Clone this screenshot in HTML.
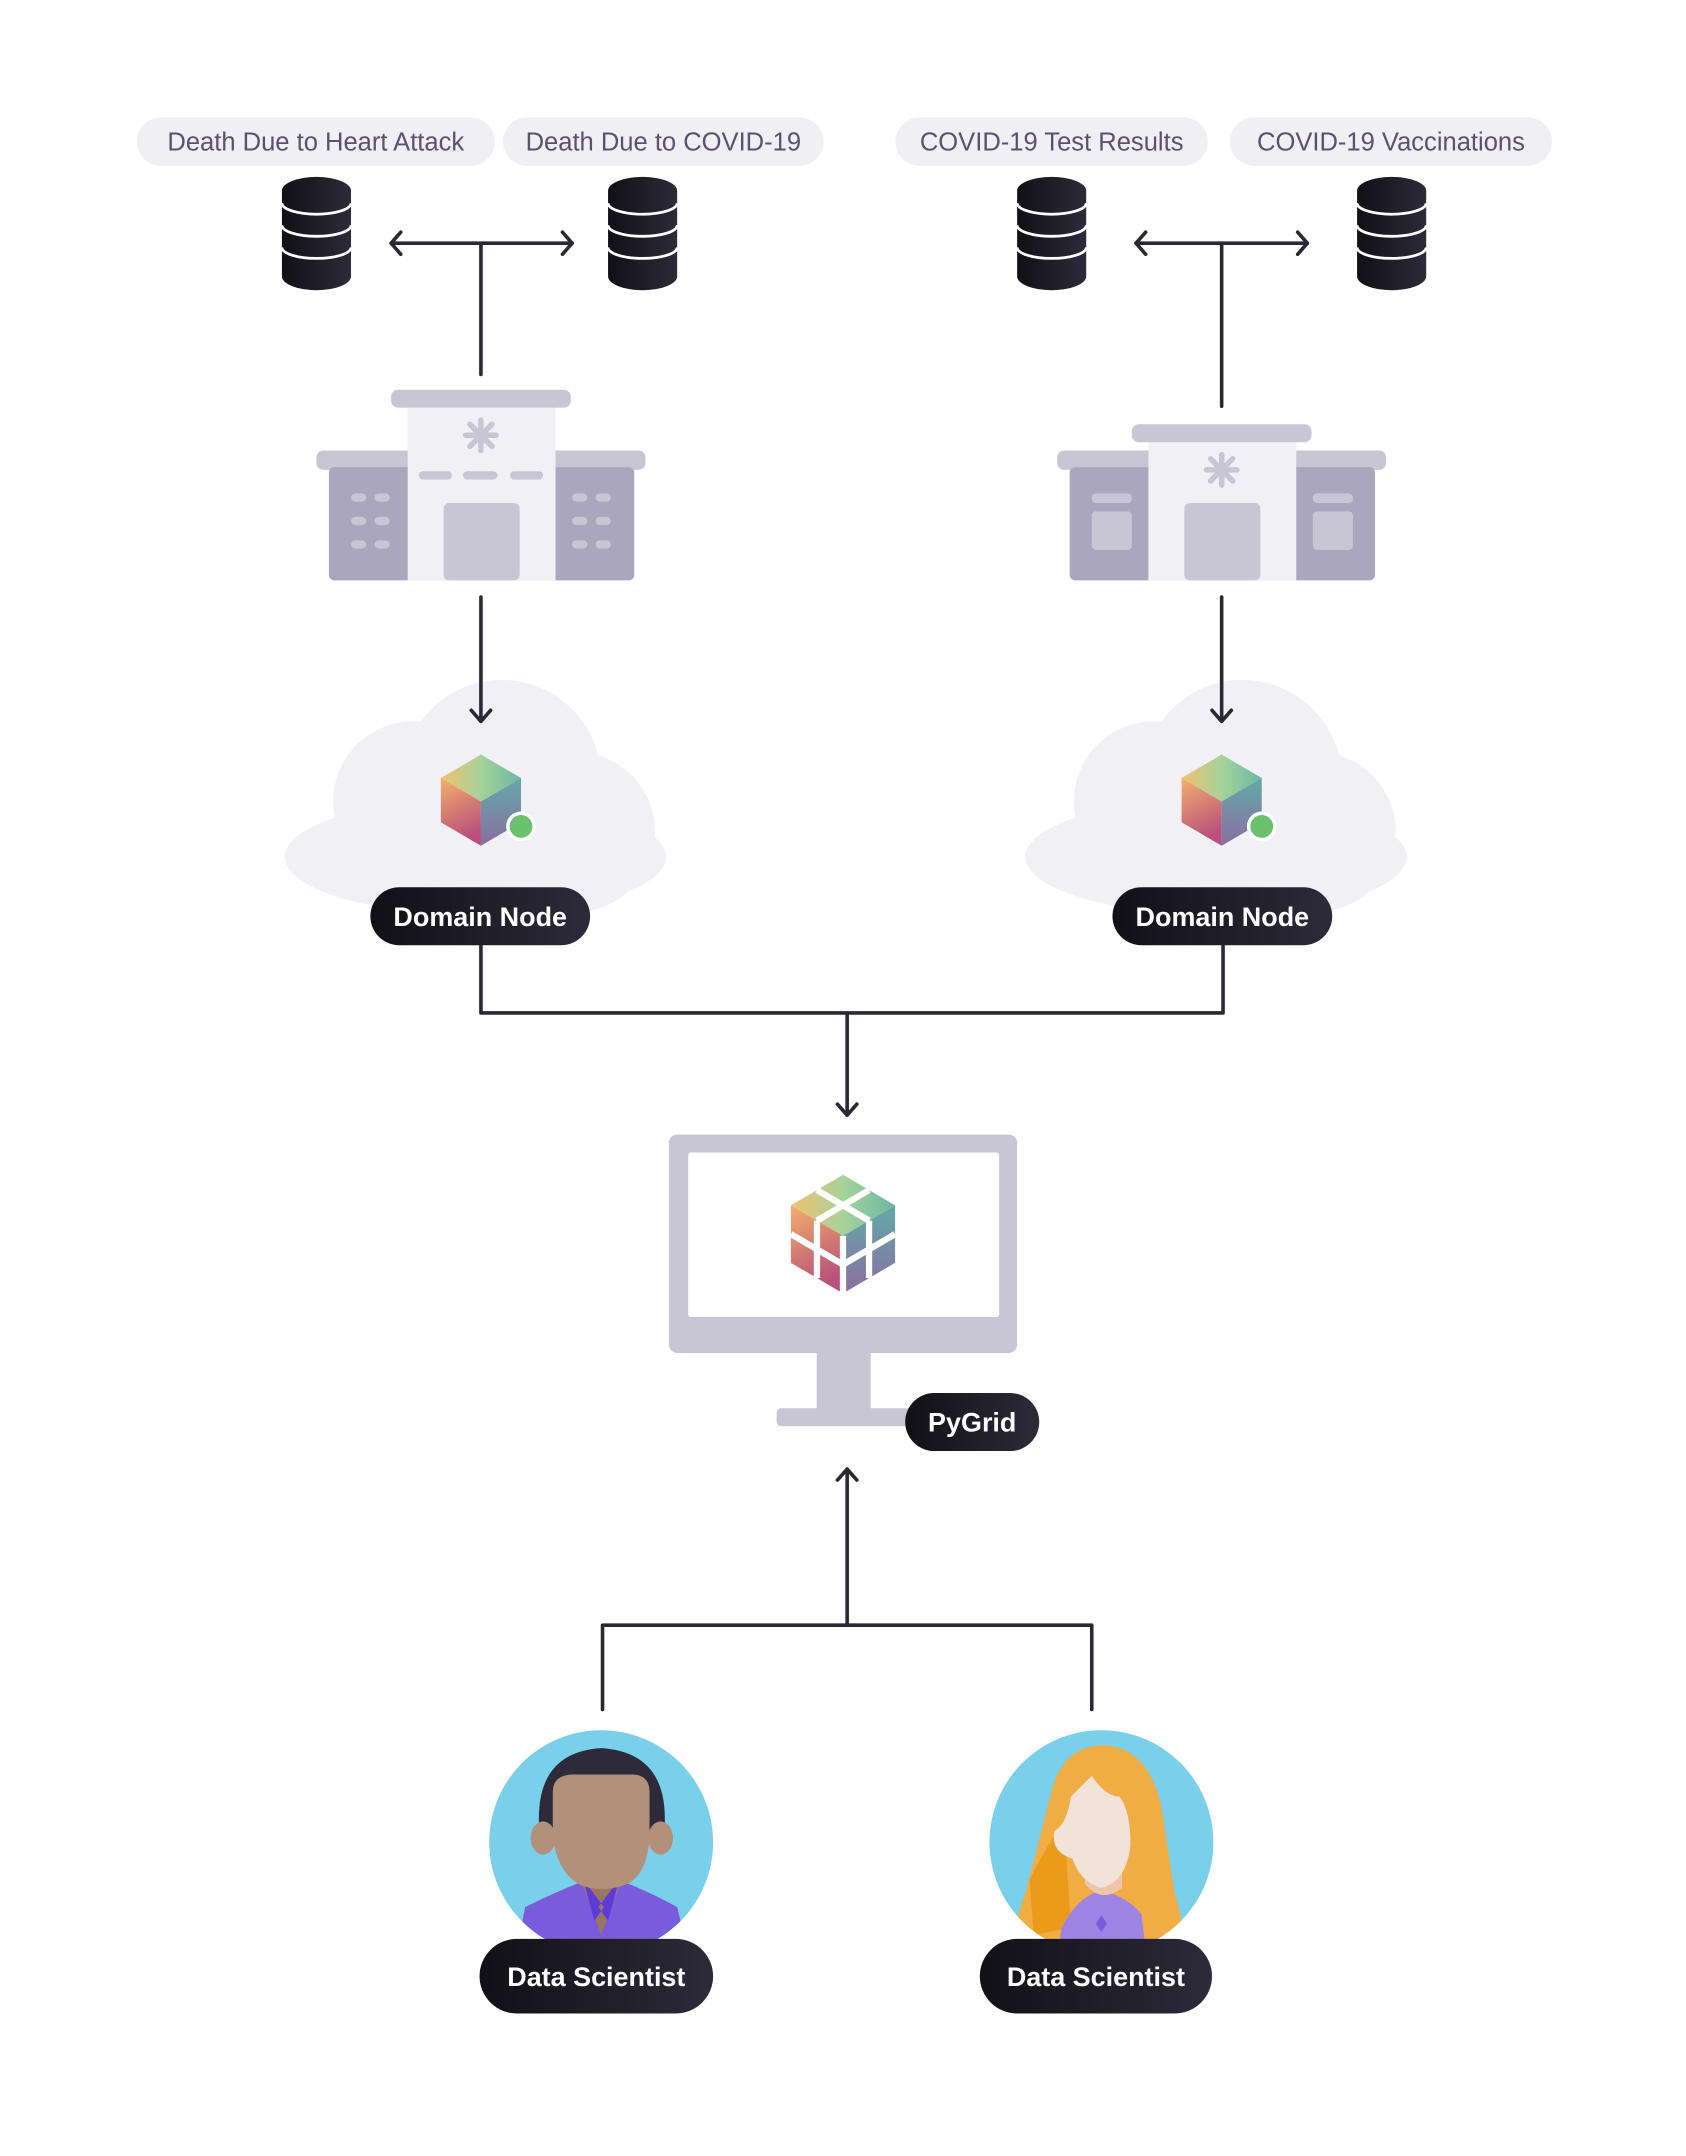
<!DOCTYPE html>
<html><head><meta charset="utf-8"><style>
html,body{margin:0;padding:0;background:#fff;}
svg{display:block;}
.pl{font-family:"Liberation Sans",sans-serif;font-size:18.5px;fill:#5a5170;}
.lb{font-family:"Liberation Sans",sans-serif;font-size:19.5px;font-weight:bold;fill:#fff;}
</style></head><body>
<svg width="1686" height="2156" viewBox="0 0 1220 1560.1" preserveAspectRatio="none" xmlns="http://www.w3.org/2000/svg">
<defs>
<linearGradient id="dk" x1="0" y1="0" x2="1" y2="0"><stop offset="0" stop-color="#111016"/><stop offset="1" stop-color="#2d2a3a"/></linearGradient>
<linearGradient id="ft" x1="0" y1="0" x2="1" y2="0"><stop offset="0" stop-color="#f2c071"/><stop offset="0.5" stop-color="#a5d39a"/><stop offset="1" stop-color="#6cb7a3"/></linearGradient>
<linearGradient id="fl" x1="0" y1="0" x2="0.3" y2="1"><stop offset="0" stop-color="#f3b06b"/><stop offset="1" stop-color="#b94f7c"/></linearGradient>
<linearGradient id="fr" x1="0" y1="0" x2="0" y2="1"><stop offset="0" stop-color="#62aaa8"/><stop offset="1" stop-color="#8a6ea0"/></linearGradient>
<g id="db">
<path d="M-25 -31 A25 10 0 0 1 25 -31 V31 A25 10 0 0 1 -25 31 Z" fill="url(#dk)"/>
<path d="M-25 -22 A25 8 0 0 0 25 -22 M-25 -6 A25 8 0 0 0 25 -6 M-25 10 A25 8 0 0 0 25 10" stroke="#fff" stroke-width="2" fill="none"/>
</g>
<g id="cube">
<path d="M0 -33 L29 -16 L0 1 L-29 -16 Z" fill="url(#ft)"/>
<path d="M-29 -16 L0 1 L0 33 L-29 16 Z" fill="url(#fl)"/>
<path d="M29 -16 L0 1 L0 33 L29 16 Z" fill="url(#fr)"/>
</g>
<g id="cloud" fill="#f0f0f5">
<ellipse cx="0" cy="40" rx="138" ry="42"/>
<circle cx="19" cy="-16" r="72"/>
<circle cx="-45" cy="0" r="58"/>
<circle cx="72" cy="22" r="58"/>
</g>
</defs>

<use href="#cloud" x="344" y="580"/>
<use href="#cloud" x="880" y="580"/>

<rect x="99" y="85" width="259" height="35" rx="17.5" fill="#efeff4"/><text class="pl" x="228.5" y="109" text-anchor="middle">Death Due to Heart Attack</text>
<rect x="364" y="85" width="232" height="35" rx="17.5" fill="#efeff4"/><text class="pl" x="480" y="109" text-anchor="middle">Death Due to COVID-19</text>
<rect x="648" y="85" width="226" height="35" rx="17.5" fill="#efeff4"/><text class="pl" x="761" y="109" text-anchor="middle">COVID-19 Test Results</text>
<rect x="890" y="85" width="233" height="35" rx="17.5" fill="#efeff4"/><text class="pl" x="1006.5" y="109" text-anchor="middle">COVID-19 Vaccinations</text>

<use href="#db" x="229" y="169"/><use href="#db" x="465" y="169"/>
<use href="#db" x="761" y="169"/><use href="#db" x="1007" y="169"/>

<g stroke="#2a2835" stroke-width="2.6" fill="none" stroke-linecap="round" stroke-linejoin="round">
<path d="M283 176 H414 M348 176 V271"/>
<path d="M290 168 L283 176 L290 184 M407 168 L414 176 L407 184"/>
<path d="M822 176 H946 M884 176 V294"/>
<path d="M829 168 L822 176 L829 184 M939 168 L946 176 L939 184"/>
<path d="M348 432 V522 M341 514 L348 522 L355 514"/>
<path d="M884 432 V522 M877 514 L884 522 L891 514"/>
<path d="M348 684 V733 H885 V684 M613 733 V807 M606 799 L613 807 L620 799"/>
<path d="M613 1175 V1063 M606 1071 L613 1063 L620 1071"/>
<path d="M436 1237 V1176 H790 V1237"/>
</g>

<rect x="229" y="326" width="238" height="14" rx="5" fill="#c8c6d4"/>
<rect x="238" y="338" width="221" height="82" rx="4" fill="#aaa6bd"/>
<rect x="295" y="294" width="107" height="126" fill="#f0f0f5"/>
<rect x="283" y="282" width="130" height="13" rx="5" fill="#c8c6d4"/>
<rect x="321" y="364" width="55" height="56" rx="4" fill="#c8c6d4"/>
<g fill="#c8c6d4"><rect x="303" y="341" width="24" height="6" rx="3"/><rect x="335" y="341" width="25" height="6" rx="3"/><rect x="369" y="341" width="24" height="6" rx="3"/>
<rect x="254" y="357" width="11" height="6" rx="3"/><rect x="271" y="357" width="11" height="6" rx="3"/><rect x="254" y="374" width="11" height="6" rx="3"/><rect x="271" y="374" width="11" height="6" rx="3"/><rect x="254" y="391" width="11" height="6" rx="3"/><rect x="271" y="391" width="11" height="6" rx="3"/>
<rect x="414" y="357" width="11" height="6" rx="3"/><rect x="431" y="357" width="11" height="6" rx="3"/><rect x="414" y="374" width="11" height="6" rx="3"/><rect x="431" y="374" width="11" height="6" rx="3"/><rect x="414" y="391" width="11" height="6" rx="3"/><rect x="431" y="391" width="11" height="6" rx="3"/></g>
<g stroke="#c8c6d4" stroke-width="4" stroke-linecap="round"><path d="M348 304 V326 M337 315 H359 M340 307 L356 323 M356 307 L340 323"/></g>

<rect x="765" y="326" width="238" height="14" rx="5" fill="#c8c6d4"/>
<rect x="774" y="338" width="221" height="82" rx="4" fill="#aaa6bd"/>
<rect x="831" y="318" width="107" height="102" fill="#f0f0f5"/>
<rect x="819" y="307" width="130" height="13" rx="5" fill="#c8c6d4"/>
<rect x="857" y="364" width="55" height="56" rx="4" fill="#c8c6d4"/>
<g fill="#c8c6d4"><rect x="790" y="357" width="29" height="7" rx="3"/><rect x="790" y="370" width="29" height="28" rx="3"/><rect x="950" y="357" width="29" height="7" rx="3"/><rect x="950" y="370" width="29" height="28" rx="3"/></g>
<g stroke="#c8c6d4" stroke-width="4" stroke-linecap="round"><path d="M884 329 V351 M873 340 H895 M876 332 L892 348 M892 332 L876 348"/></g>

<use href="#cube" x="348" y="579"/><circle cx="377" cy="598" r="9.5" fill="#6cc16c" stroke="#fff" stroke-width="2.5"/>
<use href="#cube" x="884" y="579"/><circle cx="913" cy="598" r="9.5" fill="#6cc16c" stroke="#fff" stroke-width="2.5"/>
<rect x="268" y="642" width="159" height="42" rx="21" fill="url(#dk)"/><text class="lb" x="347.5" y="670" text-anchor="middle">Domain Node</text>
<rect x="805" y="642" width="159" height="42" rx="21" fill="url(#dk)"/><text class="lb" x="884.5" y="670" text-anchor="middle">Domain Node</text>

<rect x="484" y="821" width="252" height="158" rx="6" fill="#c8c6d4"/>
<rect x="498" y="834" width="225" height="119" rx="2" fill="#fff"/>
<rect x="591" y="977" width="39" height="43" fill="#c8c6d4"/>
<rect x="562" y="1019" width="140" height="13" rx="3" fill="#c8c6d4"/>
<g transform="translate(610,893) scale(1.3)">
<use href="#cube"/>
<g stroke="#fff" stroke-width="3.5" fill="none"><path d="M-14.5 -24.5 L14.5 -7.5 M14.5 -24.5 L-14.5 -7.5 M-29 0 L0 17 L29 0 M-14.5 -7.5 V24.5 M14.5 -7.5 V24.5 M0 1 V33"/></g>
</g>
<rect x="655" y="1008" width="97" height="42" rx="21" fill="url(#dk)"/><text class="lb" x="703.5" y="1036" text-anchor="middle">PyGrid</text>

<clipPath id="c1"><circle cx="435" cy="1333" r="81"/></clipPath>
<circle cx="435" cy="1333" r="81" fill="#7acfeb"/>
<g clip-path="url(#c1)">
<path d="M380 1380 Q400 1370 420 1362 H452 Q472 1370 490 1380 L500 1420 H372 Z" fill="#7a5bdb"/>
<path d="M420 1360 L435 1400 L450 1360 Z" fill="#9a7560"/>
<path d="M422 1360 L430 1390 L437 1380 Z M448 1360 L440 1390 L433 1380 Z" fill="#5e3bd6"/>
<path d="M390 1320 Q388 1268 435 1265 Q483 1268 481 1320 L481 1330 H390 Z" fill="#2d2a3a"/>
<ellipse cx="393" cy="1330" rx="9" ry="12" fill="#b3907a"/><ellipse cx="478" cy="1330" rx="9" ry="12" fill="#b3907a"/>
<path d="M400 1297 Q400 1284 415 1284 H457 Q470 1284 470 1297 V1330 Q468 1358 452 1364 Q435 1370 420 1364 Q404 1356 400 1330 Z" fill="#b3907a"/>
</g>
<rect x="347" y="1403" width="169" height="54" rx="27" fill="url(#dk)"/><text class="lb" x="431.5" y="1437" text-anchor="middle">Data Scientist</text>

<clipPath id="c2"><circle cx="797" cy="1333" r="81"/></clipPath>
<circle cx="797" cy="1333" r="81" fill="#7acfeb"/>
<g clip-path="url(#c2)">
<path d="M760 1300 Q768 1262 800 1263 Q830 1265 840 1305 L850 1370 Q860 1400 850 1420 H740 Q730 1400 742 1370 Z" fill="#efad43"/>
<path d="M745 1360 Q760 1330 770 1320 L775 1395 L748 1400 Z" fill="#eb9b1a"/>
<path d="M768 1395 Q780 1372 797 1368 Q815 1372 826 1385 L830 1420 H765 Z" fill="#9d84e3"/>
<path d="M785 1363 Q797 1378 812 1366 V1355 H785 Z" fill="#eec4ab"/>
<path d="M790 1285 Q800 1300 810 1300 Q818 1310 818 1335 Q815 1362 797 1366 Q782 1362 776 1345 Q760 1340 763 1325 Q772 1320 775 1300 Q785 1290 790 1285 Z" fill="#f2e3da"/>
<path d="M797 1386 L801 1392 L797 1398 L793 1392 Z" fill="#7a5bdb"/>
</g>
<rect x="709" y="1403" width="168" height="54" rx="27" fill="url(#dk)"/><text class="lb" x="793" y="1437" text-anchor="middle">Data Scientist</text>
</svg>
</body></html>
